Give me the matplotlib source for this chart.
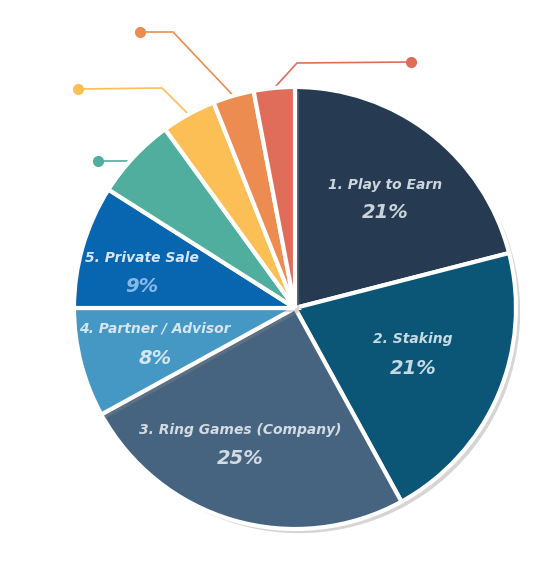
import matplotlib
matplotlib.use("Agg")
import matplotlib.pyplot as plt
import matplotlib.patheffects as pe
from matplotlib import font_manager
import numpy as np

labels = ["1. Play to Earn", "2. Staking", "3. Ring Games (Company)",
          "4. Partner / Advisor", "5. Private Sale", "6", "7", "8", "9"]
values = [21, 21, 25, 8, 9, 6, 4, 3, 3]
colors = ["#263B52", "#0B5676", "#46637F", "#4598C4", "#0865B0",
          "#4FAE9E", "#FBBF55", "#EC8C50", "#E06D5A"]
pct_colors = ["#C9D3DC", "#C3D9E6", "#D3DBE3", "#D3E6F1", "#86B9E8"]
name_colors = ["#CDD6DE", "#C7DBE6", "#D3DBE3", "#D6E6F0", "#D9E6F2"]

W, H = 542, 564
fig = plt.figure(figsize=(W / 100, H / 100), dpi=100)
ax = fig.add_axes([0, 0, 1, 1])

cx, cy, R = 295, H - 308, 221

wedges, _ = ax.pie(values, colors=colors, startangle=90, counterclock=False,
                   center=(cx, cy), radius=R, frame=True,
                   wedgeprops=dict(edgecolor="white", linewidth=3))
for w in wedges:
    w.set_path_effects([pe.SimplePatchShadow(offset=(3, -3), shadow_rgbFace="#888888", alpha=0.35),
                        pe.Normal()])
ax.set_xlim(0, W)
ax.set_ylim(0, H)
ax.set_aspect("equal")
ax.axis("off")

names = {f.name for f in font_manager.fontManager.ttflist}
font = [f for f in ["DejaVu Sans Condensed", "Liberation Sans Narrow", "DejaVu Sans"] if f in names] or ["DejaVu Sans"]
cond = font[0] == "DejaVu Sans"
name_fs = 10 if cond else 11.5

label_pos = [(385, 185, 213), (413, 339, 368), (240, 430, 458), (155, 328, 358), (142, 258, 287)]
for i, (x, yn, yp) in enumerate(label_pos):
    ax.text(x, H - yn, labels[i], ha="center", va="center", fontsize=name_fs,
            fontweight="bold", fontstyle="italic", color=name_colors[i], family=font)
    ax.text(x, H - yp, f"{values[i]}%", ha="center", va="center", fontsize=14,
            fontweight="bold", fontstyle="italic", color=pct_colors[i], family=font)

# leader lines for small slices
cum = np.cumsum([0] + values)
elbows = {5: [(98, 161)], 6: [(162, 88), (78, 89)], 7: [(173, 32), (140, 32)], 8: [(297, 63), (411, 62)]}
for i, pts in elbows.items():
    if i == 5:
        ey = H - pts[0][1]
        sx = cx - np.sqrt(R ** 2 - (ey - cy) ** 2)
        xs = [sx, pts[0][0]]
        ys = [ey, ey]
    else:
        mid = 90 - (cum[i] + values[i] / 2) / 100 * 360
        a = np.deg2rad(mid)
        sx, sy = cx + R * np.cos(a), cy + R * np.sin(a)
        xs = [sx] + [p[0] for p in pts]
        ys = [sy] + [H - p[1] for p in pts]
    ax.plot(xs, ys, color=colors[i], lw=1.2, zorder=0)
    ax.plot(xs[-1], ys[-1], "o", color=colors[i], ms=7, zorder=0)

fig.savefig("out.png", dpi=100, facecolor="white")
